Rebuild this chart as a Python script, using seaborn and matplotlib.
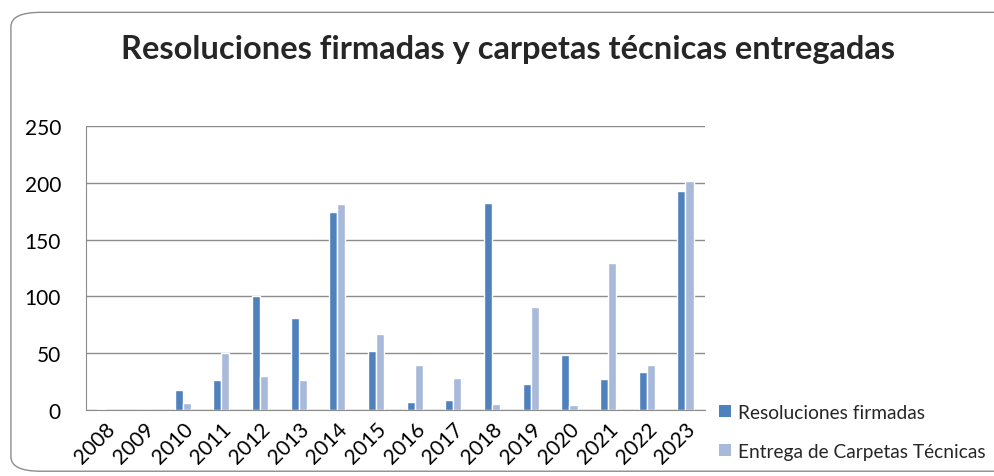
import pandas as pd
import matplotlib.pyplot as plt
import seaborn as sns
from matplotlib.patches import FancyBboxPatch, Patch

# Data.
years = ['2008', '2009', '2010', '2011', '2012', '2013', '2014', '2015',
         '2016', '2017', '2018', '2019', '2020', '2021', '2022', '2023']
resoluciones = [1, 0, 18, 26, 100, 81, 174, 52, 7, 9, 182, 23, 48, 27, 33, 193]
carpetas = [0, 0, 6, 50, 30, 26, 181, 67, 40, 28, 5, 91, 4, 129, 40, 202]

serie_names = ['Resoluciones firmadas', 'Entrega de Carpetas Técnicas']
colors = ['#4F81BD', '#A9B9D9']

df = pd.DataFrame({
    'year': years * 2,
    'value': resoluciones + carpetas,
    'serie': [serie_names[0]] * len(years) + [serie_names[1]] * len(years),
})

sns.set_style('white')
plt.rcParams['font.family'] = ['Lato', 'DejaVu Sans']

fig = plt.figure(figsize=(9.94, 4.77), dpi=100)
ax = fig.add_axes([0.0865, 0.1384, 0.6225, 0.5954])

sns.barplot(data=df, x='year', y='value', hue='serie', palette=colors,
            width=0.42, ax=ax, legend=False, saturation=1)

ax.set_ylim(0, 250)
ax.set_yticks([0, 50, 100, 150, 200, 250])
ax.set_xlim(-0.5, len(years) - 0.5)
ax.yaxis.grid(True, color='#8c8c8c', linewidth=1)
ax.set_axisbelow(True)
for side in ['top', 'right']:
    ax.spines[side].set_visible(False)
ax.spines['left'].set_color('#8c8c8c')
ax.spines['bottom'].set_color('#8c8c8c')
ax.set_xlabel('')
ax.set_ylabel('')
ax.tick_params(axis='both', length=0, labelsize=15, colors='black')
ax.tick_params(axis='y', pad=18)
ax.tick_params(axis='x', pad=6)
plt.setp(ax.get_xticklabels(), rotation=45, ha='right', rotation_mode='anchor')

fig.text(0.511, 0.897, 'Resoluciones firmadas y carpetas técnicas entregadas',
         ha='center', va='center', fontsize=23.5, fontweight='bold')

handles = [Patch(facecolor=c, edgecolor='none') for c in colors]
fig.legend(handles, serie_names, loc='upper left', bbox_to_anchor=(0.716, 0.168),
           frameon=False, fontsize=13.8, handlelength=0.6, handleheight=0.6,
           handletextpad=0.35, labelspacing=1.15, borderaxespad=0)

frame = FancyBboxPatch((0.011, 0.01), 1.2, 0.962, transform=fig.transFigure,
                       boxstyle='round,pad=0,rounding_size=0.03',
                       facecolor='none', edgecolor='#8c8c8c', linewidth=1)
fig.patches.append(frame)

fig.savefig('out.png', dpi=100)
